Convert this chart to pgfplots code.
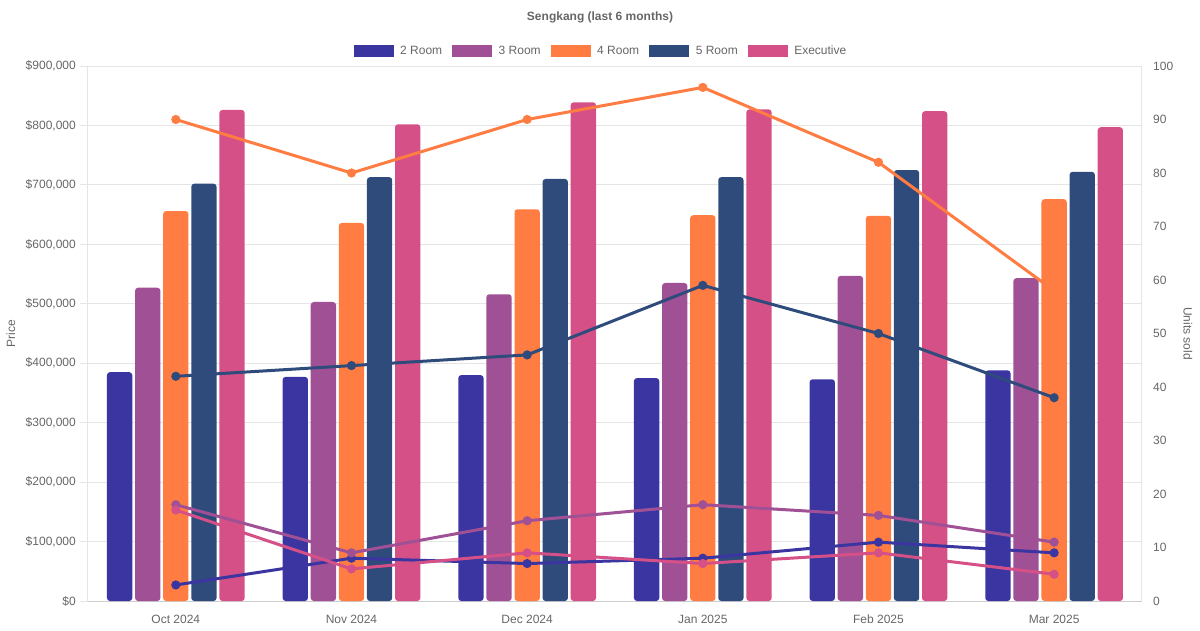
\documentclass[border=0pt]{standalone}
\usepackage{fontspec}
\setmainfont{Liberation Sans}
\usepackage{pgfplots}
\pgfplotsset{compat=1.18}
\definecolor{cA}{HTML}{3A35A0}
\definecolor{cB}{HTML}{A05195}
\definecolor{cC}{HTML}{FF7C43}
\definecolor{cD}{HTML}{2F4B7C}
\definecolor{cE}{HTML}{D45087}
\definecolor{txt}{HTML}{666666}
\definecolor{grid}{HTML}{E5E5E5}
\definecolor{axl}{HTML}{CCCCCC}
\begin{document}
\fontsize{12pt}{14pt}\selectfont
\begin{tikzpicture}[x=1pt,y=1pt]
\useasboundingbox (0,0) rectangle (1200,630);
\begin{axis}[
  at={(88pt,29pt)}, anchor=south west,
  scale only axis, width=1054pt, height=535pt,
  xmin=-0.5, xmax=5.5, ymin=0, ymax=900000,
  ybar=2.8pt, bar width=25.3pt,
  xtick={0,1,2,3,4,5},
  xticklabels={Oct 2024,Nov 2024,Dec 2024,Jan 2025,Feb 2025,Mar 2025},
  ytick={0,100000,200000,300000,400000,500000,600000,700000,800000,900000},
  yticklabels={\$0,{\$100,000},{\$200,000},{\$300,000},{\$400,000},{\$500,000},{\$600,000},{\$700,000},{\$800,000},{\$900,000}},
  scaled y ticks=false,
  ymajorgrids, grid style={draw=grid, line width=1pt},
  axis x line*=bottom, axis y line*=left,
  x axis line style={draw=axl, line width=1pt, -},
  y axis line style={draw=grid, line width=1pt, -},
  xtick style={draw=none},
  ytick style={draw=grid, line width=1pt},
  major tick length=8pt, tick align=outside,
  ticklabel style={font=\fontsize{12pt}{14pt}\selectfont, text=txt},
  yticklabel style={anchor=east, inner sep=0pt, xshift=-4pt},
  xticklabel style={anchor=center, inner sep=0pt, yshift=-10pt},
  ylabel={Price},
  ylabel style={at={(axis description cs:-0.0731,0.5)}, anchor=center, rotate=0, font=\fontsize{12pt}{14pt}\selectfont, text=txt},
  legend image code/.code={\fill[#1, sharp corners] (0pt,-6pt) rectangle (40pt,6pt);},
  legend style={draw=none, fill=none, at={(axis description cs:0.4858,1.0280)}, anchor=center,
    legend columns=5, font=\fontsize{12pt}{14pt}\selectfont, text=txt,
    nodes={inner sep=0pt},
    /tikz/every odd column/.append style={column sep=6.5pt},
    /tikz/every even column/.append style={column sep=10pt}},
  legend cell align=left,
]
\addplot[fill=cA, draw=none, rounded corners=3pt] coordinates {(0,385000) (1,377000) (2,380000) (3,375000) (4,373000) (5,388000)};
\addplot[fill=cB, draw=none, rounded corners=3pt] coordinates {(0,527000) (1,503000) (2,516000) (3,535000) (4,547000) (5,543000)};
\addplot[fill=cC, draw=none, rounded corners=3pt] coordinates {(0,656000) (1,636000) (2,659000) (3,649000) (4,648000) (5,676000)};
\addplot[fill=cD, draw=none, rounded corners=3pt] coordinates {(0,702000) (1,713000) (2,710000) (3,713000) (4,725000) (5,722000)};
\addplot[fill=cE, draw=none, rounded corners=3pt] coordinates {(0,826000) (1,802000) (2,839000) (3,827000) (4,824000) (5,797000)};
\legend{2 Room,3 Room,4 Room,5 Room,Executive}
\end{axis}
\begin{axis}[
  at={(88pt,29pt)}, anchor=south west,
  scale only axis, width=1054pt, height=535pt,
  xmin=-0.5, xmax=5.5, ymin=0, ymax=100,
  axis x line=none, axis y line*=right,
  y axis line style={draw=grid, line width=1pt, -},
  ytick={0,10,...,100},
  ytick style={draw=none},
  ticklabel style={font=\fontsize{12pt}{14pt}\selectfont, text=txt},
  yticklabel style={anchor=west, inner sep=0pt, xshift=11pt},
  /pgf/number format/assume math mode=true,
  ylabel={Units sold},
  ylabel style={at={(axis description cs:1.0436,0.5)}, anchor=center, rotate=180, font=\fontsize{12pt}{14pt}\selectfont, text=txt},
]
\addplot[cA, line width=3pt, mark=*, mark size=3pt] coordinates {(0,3) (1,8) (2,7) (3,8) (4,11) (5,9)};
\addplot[cB, line width=3pt, mark=*, mark size=3pt] coordinates {(0,18) (1,9) (2,15) (3,18) (4,16) (5,11)};
\addplot[cC, line width=3pt, mark=*, mark size=3pt] coordinates {(0,90) (1,80) (2,90) (3,96) (4,82) (5,58)};
\addplot[cD, line width=3pt, mark=*, mark size=3pt] coordinates {(0,42) (1,44) (2,46) (3,59) (4,50) (5,38)};
\addplot[cE, line width=3pt, mark=*, mark size=3pt] coordinates {(0,17) (1,6) (2,9) (3,7) (4,9) (5,5)};
\end{axis}
\node[font=\bfseries\fontsize{12pt}{14pt}\selectfont, text=txt] at (600,613) {Sengkang (last 6 months)};
\end{tikzpicture}
\end{document}
